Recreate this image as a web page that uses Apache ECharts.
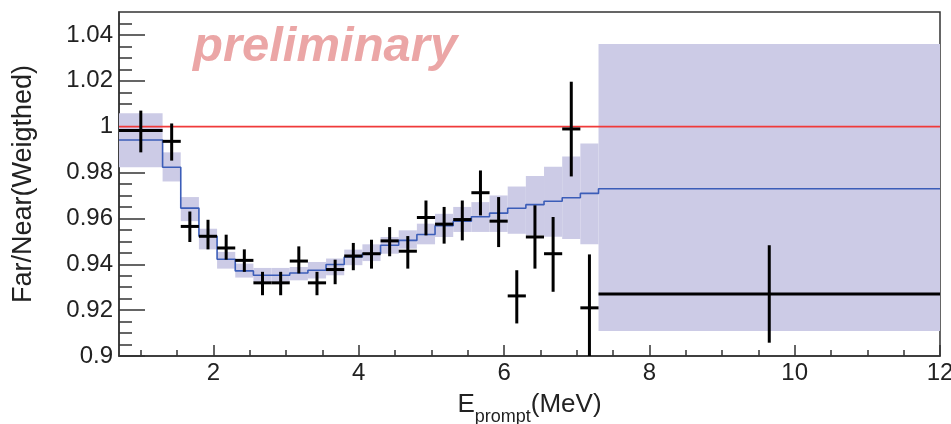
<!DOCTYPE html>
<html>
<head>
<meta charset="utf-8">
<script src="https://cdn.jsdelivr.net/npm/echarts@6/dist/echarts.min.js"></script>
<style>
  html, body { margin: 0; padding: 0; background: #fff; }
  #chart { width: 951px; height: 424px; }
</style>
</head>
<body>
<div id="chart"></div>
<script>
// prompt energy bins (MeV): 0.7-1.3, 0.25 MeV bins up to 7.3, then 7.3-12
const binEdges = [0.7, 1.3, 1.55, 1.8, 2.05, 2.3, 2.55, 2.8, 3.05, 3.3, 3.55, 3.8, 4.05, 4.3,
  4.55, 4.8, 5.05, 5.3, 5.55, 5.8, 6.05, 6.3, 6.55, 6.8, 7.05, 7.3, 12];

// measured Far/Near ratio with stat. errors
const dataValue = [0.9983, 0.9936, 0.9565, 0.9522, 0.9471, 0.9417, 0.9319, 0.9319, 0.9414, 0.9319,
  0.9377, 0.9436, 0.9446, 0.9502, 0.9457, 0.9604, 0.9575, 0.9595, 0.9712, 0.9588,
  0.9262, 0.9519, 0.9446, 0.999, 0.921, 0.927];
const dataLow = [0.9888, 0.9852, 0.9497, 0.9465, 0.942, 0.9367, 0.9265, 0.9265, 0.936, 0.9265,
  0.9313, 0.9374, 0.9381, 0.9435, 0.9381, 0.9526, 0.949, 0.9504, 0.9613, 0.9475,
  0.9142, 0.9381, 0.928, 0.9783, 0.8975, 0.9058];
const dataHigh = [1.007, 1.0014, 0.963, 0.9594, 0.9529, 0.9465, 0.9367, 0.9367, 0.9478, 0.9367,
  0.942, 0.9493, 0.9507, 0.9562, 0.9523, 0.9678, 0.965, 0.9678, 0.9809, 0.9693,
  0.9374, 0.9657, 0.9606, 1.0196, 0.9443, 0.9483];

// prediction (blue) and its uncertainty band
const modelValue = [0.9942, 0.9823, 0.9645, 0.9522, 0.9422, 0.9371, 0.9352, 0.9352, 0.9362, 0.9374,
  0.9399, 0.9432, 0.9446, 0.9483, 0.9504, 0.953, 0.9568, 0.9588, 0.9607, 0.9623,
  0.9644, 0.966, 0.9675, 0.969, 0.9709, 0.9729];
const bandLow = [0.9823, 0.9761, 0.9588, 0.9465, 0.9381, 0.9342, 0.9323, 0.9322, 0.933, 0.9338,
  0.9352, 0.9396, 0.9414, 0.9446, 0.9468, 0.9487, 0.9519, 0.9541, 0.9541, 0.9541,
  0.9533, 0.9526, 0.952, 0.951, 0.9487, 0.9109];
const bandHigh = [1.0058, 0.9888, 0.9693, 0.9555, 0.9454, 0.9403, 0.9384, 0.9384, 0.9388, 0.941,
  0.9425, 0.9464, 0.9487, 0.9519, 0.9548, 0.9577, 0.962, 0.965, 0.9671, 0.97,
  0.9739, 0.9785, 0.9825, 0.987, 0.9927, 1.036];

const refValue = 1;

const xMajorTicks = [2, 4, 6, 8, 10, 12];
const xMinorTicks = [1, 1.5, 2.5, 3, 3.5, 4.5, 5, 5.5, 6.5, 7, 7.5, 8.5, 9, 9.5, 10.5, 11, 11.5];
const yMajorTicks = [0.9, 0.92, 0.94, 0.96, 0.98, 1, 1.02, 1.04];
const yMinorTicks = [0.905, 0.91, 0.915, 0.925, 0.93, 0.935, 0.945, 0.95, 0.955, 0.965, 0.97, 0.975,
  0.985, 0.99, 0.995, 1.005, 1.01, 1.015, 1.025, 1.03, 1.035, 1.045];

const X_MIN = 0.7, X_MAX = 12, Y_MIN = 0.9, Y_MAX = 1.05;
const FONT = '"Liberation Sans", Arial, Helvetica, sans-serif';
const AXIS_COLOR = '#333';

const bandData = modelValue.map((_, i) => [binEdges[i], binEdges[i + 1], bandLow[i], bandHigh[i]]);
const crossData = dataValue.map((v, i) => [
  binEdges[i], binEdges[i + 1], (binEdges[i] + binEdges[i + 1]) / 2, v, dataLow[i], dataHigh[i]
]);
const stepData = modelValue.map((v, i) => [binEdges[i], v]);
stepData.push([binEdges[binEdges.length - 1], modelValue[modelValue.length - 1]]);

const chart = echarts.init(document.getElementById('chart'), null, { renderer: 'canvas' });

const baseX = {
  type: 'value',
  min: X_MIN,
  max: X_MAX,
  position: 'bottom',
  splitLine: { show: false }
};
const baseY = {
  type: 'value',
  min: Y_MIN,
  max: Y_MAX,
  position: 'left',
  splitLine: { show: false }
};

chart.setOption({
  animation: false,
  backgroundColor: '#fff',
  textStyle: { fontFamily: FONT },
  grid: {
    left: 119, right: 11, top: 12, bottom: 68,
    outerBoundsMode: 'none',
    containLabel: false,
    show: true, borderColor: AXIS_COLOR, borderWidth: 1.5, backgroundColor: 'transparent'
  },
  xAxis: [
    {
      ...baseX,
      axisLine: { show: true, lineStyle: { color: AXIS_COLOR, width: 1.5 } },
      axisTick: { show: true, inside: true, length: 11, customValues: xMajorTicks,
        lineStyle: { color: AXIS_COLOR, width: 1.5 } },
      axisLabel: { customValues: xMajorTicks, fontSize: 24, margin: 5, color: '#222', fontFamily: FONT },
      name: '{e|E}{s|prompt}{e|(MeV)}',
      nameLocation: 'middle',
      nameGap: 27,
      nameTextStyle: {
        rich: {
          e: { fontSize: 26, color: '#222', fontFamily: FONT },
          s: { fontSize: 18, color: '#222', fontFamily: FONT, padding: [25, 0, 0, 0] }
        }
      }
    },
    {
      ...baseX,
      axisLine: { show: false },
      axisTick: { show: true, inside: true, length: 6, customValues: xMinorTicks,
        lineStyle: { color: AXIS_COLOR, width: 1.5 } },
      axisLabel: { show: false }
    }
  ],
  yAxis: [
    {
      ...baseY,
      axisLine: { show: true, lineStyle: { color: AXIS_COLOR, width: 1.5 } },
      axisTick: { show: true, inside: true, length: 26, customValues: yMajorTicks,
        lineStyle: { color: AXIS_COLOR, width: 1.5 } },
      axisLabel: {
        customValues: yMajorTicks, fontSize: 24, margin: 6, color: '#222', fontFamily: FONT,
        formatter: (v) => String(parseFloat(Number(v).toFixed(2)))
      },
      name: 'Far/Near(Weigthed)',
      nameLocation: 'middle',
      nameRotate: 90,
      nameGap: 82,
      nameTextStyle: { fontSize: 27, color: '#222', fontFamily: FONT }
    },
    {
      ...baseY,
      axisLine: { show: false },
      axisTick: { show: true, inside: true, length: 13, customValues: yMinorTicks,
        lineStyle: { color: AXIS_COLOR, width: 1.5 } },
      axisLabel: { show: false }
    }
  ],
  graphic: [
    {
      type: 'text',
      left: 193,
      top: 23,
      z: 1,
      style: {
        text: 'preliminary',
        font: 'italic bold 49px ' + FONT,
        fill: '#eba6a6'
      }
    }
  ],
  series: [
    {
      name: 'band',
      type: 'custom',
      xAxisIndex: 0,
      yAxisIndex: 0,
      data: bandData,
      clip: true,
      z: 1,
      renderItem: (params, api) => {
        const p0 = api.coord([api.value(0), api.value(3)]);
        const p1 = api.coord([api.value(1), api.value(2)]);
        return {
          type: 'rect',
          shape: { x: p0[0], y: p0[1], width: p1[0] - p0[0], height: p1[1] - p0[1] },
          style: { fill: '#cccbe6' }
        };
      }
    },
    {
      name: 'prediction',
      type: 'line',
      xAxisIndex: 0,
      yAxisIndex: 0,
      data: stepData,
      step: 'end',
      symbol: 'none',
      z: 2,
      lineStyle: { color: '#3b5db8', width: 1.6 }
    },
    {
      name: 'unity',
      type: 'line',
      xAxisIndex: 0,
      yAxisIndex: 0,
      data: [[X_MIN, refValue], [X_MAX, refValue]],
      symbol: 'none',
      z: 3,
      lineStyle: { color: '#f03a3a', width: 1.6 }
    },
    {
      name: 'data',
      type: 'custom',
      xAxisIndex: 0,
      yAxisIndex: 0,
      data: crossData,
      clip: true,
      z: 4,
      renderItem: (params, api) => {
        const left = api.coord([api.value(0), api.value(3)]);
        const right = api.coord([api.value(1), api.value(3)]);
        const top = api.coord([api.value(2), api.value(5)]);
        const bottom = api.coord([api.value(2), api.value(4)]);
        const style = { stroke: '#000', lineWidth: 3, fill: null };
        return {
          type: 'group',
          children: [
            { type: 'line', shape: { x1: left[0], y1: left[1], x2: right[0], y2: right[1] }, style },
            { type: 'line', shape: { x1: top[0], y1: top[1], x2: bottom[0], y2: bottom[1] }, style }
          ]
        };
      }
    }
  ]
});

window.addEventListener('resize', () => chart.resize());
</script>
</body>
</html>
